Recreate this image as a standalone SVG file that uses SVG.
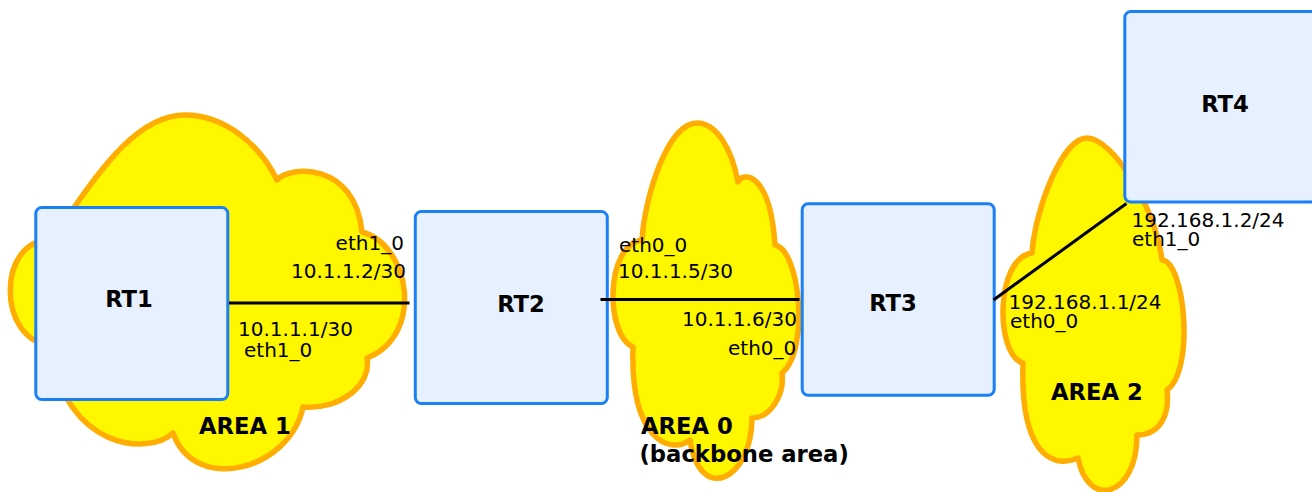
<svg xmlns="http://www.w3.org/2000/svg" width="1312" height="492" viewBox="0 0 1312 492">
  <style>
    .area { fill: #fff700; stroke: #ffad00; stroke-width: 5.5; stroke-linejoin: round; }
    .router { fill: #e6f0fe; stroke: #1b7ff5; stroke-width: 3; }
    .link { stroke: #000; stroke-width: 3; fill: none; }
    .name { font-family: "DejaVu Sans", sans-serif; font-weight: bold; font-size: 22.7px; fill: #000; }
    .ifc { font-family: "DejaVu Sans", sans-serif; font-size: 20px; fill: #000; }
  </style>

  <!-- OSPF areas -->
  <g id="area1">
    <path class="area" d="M 50,240 C 80,205 125,115 185,115 C 225,115 260,145 277,180 C 290,165 355,162 362,232 C 410,245 425,335 367,358 C 372,385 340,410 303,407 C 290,470 195,495 173,433 C 150,455 65,452 50,345 C -3,340 -3,240 50,240 Z"/>
    <text class="name" x="199" y="434">AREA 1</text>
  </g>
  <g id="area0">
    <path class="area" d="M 642,240 C 645,195 668,123 697,123 C 717,123 732,150 738,182 C 742,172 770,170 775,245 C 800,250 810,350 782,373 C 785,395 770,418 752,418 C 752,480 700,505 690,440 C 670,455 630,440 633,347 C 605,335 605,245 642,240 Z"/>
    <text class="name" x="641" y="434">AREA 0</text>
    <text class="name" x="639.5" y="462">(backbone area)</text>
  </g>
  <g id="area2">
    <path class="area" d="M 1032,253 C 1035,210 1062,138 1087,138 C 1112,138 1155,205 1162,260 C 1185,262 1195,370 1167,390 C 1170,415 1160,435 1137,435 C 1137,497 1088,510 1078,458 C 1050,470 1020,450 1023,363 C 995,355 995,258 1032,253 Z"/>
    <text class="name" x="1051" y="400">AREA 2</text>
  </g>

  <!-- routers -->
  <g id="rt1">
    <rect class="router" x="35.8" y="207.5" width="192" height="192" rx="6"/>
    <text class="name" x="129" y="307" text-anchor="middle">RT1</text>
  </g>
  <g id="rt2">
    <rect class="router" x="415.3" y="211.5" width="192" height="192" rx="6"/>
    <text class="name" x="521" y="311.5" text-anchor="middle">RT2</text>
  </g>
  <g id="rt3">
    <rect class="router" x="802.2" y="203.8" width="192" height="191.5" rx="6"/>
    <text class="name" x="893" y="310.5" text-anchor="middle">RT3</text>
  </g>
  <g id="rt4">
    <rect class="router" x="1124.8" y="11.5" width="192" height="190.5" rx="6"/>
    <text class="name" x="1225" y="111.5" text-anchor="middle">RT4</text>
  </g>

  <!-- links -->
  <g id="links">
    <line class="link" x1="229" y1="303" x2="409.5" y2="303"/>
    <line class="link" x1="600.5" y1="299.5" x2="799.5" y2="299.5"/>
    <line class="link" x1="993.5" y1="300" x2="1126.5" y2="203.5"/>
  </g>

  <!-- interface labels -->
  <g id="link-labels">
    <text class="ifc" x="335.6" y="250">eth1_0</text>
    <text class="ifc" x="291" y="277.7">10.1.1.2/30</text>
    <text class="ifc" x="238" y="335.7">10.1.1.1/30</text>
    <text class="ifc" x="244" y="356.7">eth1_0</text>

    <text class="ifc" x="619" y="252">eth0_0</text>
    <text class="ifc" x="618" y="278">10.1.1.5/30</text>
    <text class="ifc" x="682" y="326">10.1.1.6/30</text>
    <text class="ifc" x="728" y="355">eth0_0</text>

    <text class="ifc" x="1008.5" y="309">192.168.1.1/24</text>
    <text class="ifc" x="1010" y="327.7">eth0_0</text>
    <text class="ifc" x="1131.5" y="226.7">192.168.1.2/24</text>
    <text class="ifc" x="1132" y="245.7">eth1_0</text>
  </g>
</svg>
